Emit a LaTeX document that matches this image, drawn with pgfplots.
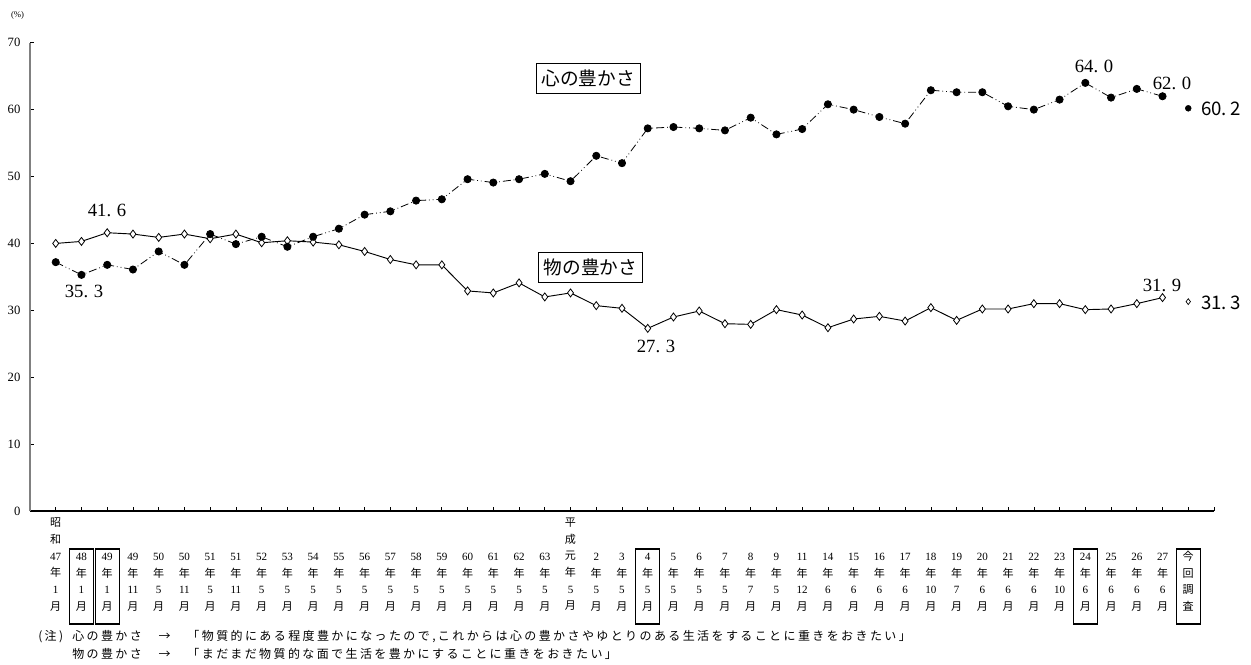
\documentclass[border=0pt]{standalone}
\usepackage{fontspec}
\usepackage{pgfplots}
\pgfplotsset{compat=1.18}
\setmainfont{Liberation Serif}
\newfontfamily\cjk{Noto Sans CJK JP}
\newfontfamily\cjknote[LetterSpace=20]{Noto Sans CJK JP}
\newcommand\J[1]{{\cjk #1}}
\newcommand\ym[2]{\phantom{\J{年}}\\\phantom{\J{年}}\\#1\\\J{年}\\#2\\\J{月}}

% values, in %
\pgfplotstableread{
x kokoro mono
0  37.2 40.0
1  35.3 40.3
2  36.8 41.6
3  36.1 41.4
4  38.8 40.9
5  36.8 41.4
6  41.4 40.7
7  39.9 41.4
8  41.0 40.1
9  39.5 40.4
10 41.0 40.2
11 42.2 39.8
12 44.3 38.8
13 44.8 37.6
14 46.4 36.8
15 46.6 36.8
16 49.6 32.9
17 49.1 32.6
18 49.6 34.1
19 50.4 32.0
20 49.3 32.6
21 53.1 30.7
22 52.0 30.3
23 57.2 27.3
24 57.4 29.0
25 57.2 29.9
26 56.9 28.0
27 58.8 27.9
28 56.3 30.1
29 57.1 29.3
30 60.8 27.4
31 60.0 28.7
32 58.9 29.1
33 57.9 28.4
34 62.9 30.4
35 62.6 28.5
36 62.6 30.2
37 60.5 30.2
38 60.0 31.0
39 61.5 31.0
40 64.0 30.1
41 61.8 30.2
42 63.1 31.0
43 62.0 31.9
}\series

\begin{document}
\begin{tikzpicture}
\useasboundingbox (0,0) rectangle (938.25pt,-498pt);
\begin{axis}[
  at={(22.5pt,-383.25pt)}, anchor=south west,
  scale only axis, width=888pt, height=351.2pt,
  xmin=-1, xmax=45, ymin=0, ymax=70,
  clip=false,
  axis x line*=bottom, axis y line*=left,
  x axis line style={-, black, line width=0.8pt},
  y axis line style={-, gray, line width=1.5pt},
  tick align=inside, major tick length=3pt,
  tick style={black, line width=0.5pt},
  ytick={0,10,...,70},
  /pgf/number format/assume math mode=true,
  yticklabel style={font=\fontsize{9.5pt}{10pt}\selectfont, inner sep=0pt, xshift=-7pt},
  xtick={0,...,44},
  extra x ticks={45}, extra x tick labels={},
  xticklabel style={anchor=north, align=center, inner sep=0pt, yshift=-5pt,
    font=\fontsize{8.3pt}{12.5pt}\selectfont},
  xticklabels={
    {\J{昭}\\\J{和}\\47\\\J{年}\\1\\\J{月}},
    {\ym{48}{1}},{\ym{49}{1}},{\ym{49}{11}},{\ym{50}{5}},{\ym{50}{11}},
    {\ym{51}{5}},{\ym{51}{11}},{\ym{52}{5}},{\ym{53}{5}},{\ym{54}{5}},
    {\ym{55}{5}},{\ym{56}{5}},{\ym{57}{5}},{\ym{58}{5}},{\ym{59}{5}},
    {\ym{60}{5}},{\ym{61}{5}},{\ym{62}{5}},{\ym{63}{5}},
    {\J{平}\\\J{成}\\\J{元}\\\J{年}\\5\\\J{月}},
    {\ym{2}{5}},{\ym{3}{5}},{\ym{4}{5}},{\ym{5}{5}},{\ym{6}{5}},
    {\ym{7}{5}},{\ym{8}{7}},{\ym{9}{5}},{\ym{11}{12}},{\ym{14}{6}},
    {\ym{15}{6}},{\ym{16}{6}},{\ym{17}{6}},{\ym{18}{10}},{\ym{19}{7}},
    {\ym{20}{6}},{\ym{21}{6}},{\ym{22}{6}},{\ym{23}{10}},{\ym{24}{6}},
    {\ym{25}{6}},{\ym{26}{6}},{\ym{27}{6}},
    {\phantom{\J{年}}\\\phantom{\J{年}}\\\J{今}\\\J{回}\\\J{調}\\\J{査}}
  },
]
\addplot[black, line width=0.7pt, mark=diamond*, mark size=3pt,
  mark options={solid, fill=white, line width=0.6pt}] table[x=x, y=mono] {\series};
\addplot[black, line width=0.6pt,
  dash pattern=on 6pt off 2.2pt on 0.6pt off 2.2pt on 0.6pt off 2.2pt,
  mark=*, mark size=2.7pt, mark options={solid, fill=black}] table[x=x, y=kokoro] {\series};
% current survey, not joined to the lines
\addplot[only marks, mark=*, mark size=2.2pt, mark options={fill=black}] coordinates {(44,60.2)};
\addplot[only marks, mark=diamond*, mark size=2.2pt,
  mark options={fill=white, draw=black, line width=0.5pt}] coordinates {(44,31.3)};

% boxes round some tick labels
\draw[line width=0.8pt] (axis cs:0.53,-5.68) rectangle (axis cs:1.47,-16.89);
\draw[line width=0.8pt] (axis cs:1.53,-5.68) rectangle (axis cs:2.47,-16.89);
\draw[line width=0.8pt] (axis cs:22.53,-5.68) rectangle (axis cs:23.47,-16.89);
\draw[line width=0.8pt] (axis cs:39.53,-5.68) rectangle (axis cs:40.47,-16.89);
\draw[line width=0.8pt] (axis cs:43.53,-5.68) rectangle (axis cs:44.47,-16.89);
\end{axis}

\begin{scope}[x=0.75pt, y=-0.75pt]
\node[font=\fontsize{6.5pt}{7pt}\selectfont] at (17.5,15.7) {(\%)};
\node[draw, line width=0.6pt, minimum width=78.5pt, minimum height=22.8pt, inner sep=0pt,
  font=\cjk\fontsize{14pt}{14pt}\selectfont] at (588.3,78.5) {心の豊かさ};
\node[draw, line width=0.6pt, minimum width=78.5pt, minimum height=22.2pt, inner sep=0pt,
  font=\cjk\fontsize{14pt}{14pt}\selectfont] at (590.5,267.5) {物の豊かさ};
\begin{scope}[every node/.style={font=\fontsize{14pt}{14pt}\selectfont, inner sep=0pt}]
\node at (107,210) {41.\hspace{0.3em}6};
\node at (84,291) {35.\hspace{0.3em}3};
\node at (656,346.7) {27.\hspace{0.3em}3};
\node at (1094,66) {64.\hspace{0.3em}0};
\node at (1172,83.3) {62.\hspace{0.3em}0};
\node at (1162,285) {31.\hspace{0.3em}9};
\end{scope}
\node[font=\cjk\fontsize{14pt}{14pt}\selectfont, inner sep=0pt] at (1221,109) {60.\hspace{0.2em}2};
\node[font=\cjk\fontsize{14pt}{14pt}\selectfont, inner sep=0pt] at (1221,302.7) {31.\hspace{0.2em}3};
\begin{scope}[every node/.style={font=\cjknote\fontsize{9pt}{10pt}\selectfont, inner sep=0pt, anchor=west}]
\node at (38,637) {(注)};
\node at (72,637) {心の豊かさ　→　「物質的にある程度豊かになったので,これからは心の豊かさやゆとりのある生活をすることに重きをおきたい」};
\node at (72,654) {物の豊かさ　→　「まだまだ物質的な面で生活を豊かにすることに重きをおきたい」};
\end{scope}
\end{scope}
\end{tikzpicture}
\end{document}
